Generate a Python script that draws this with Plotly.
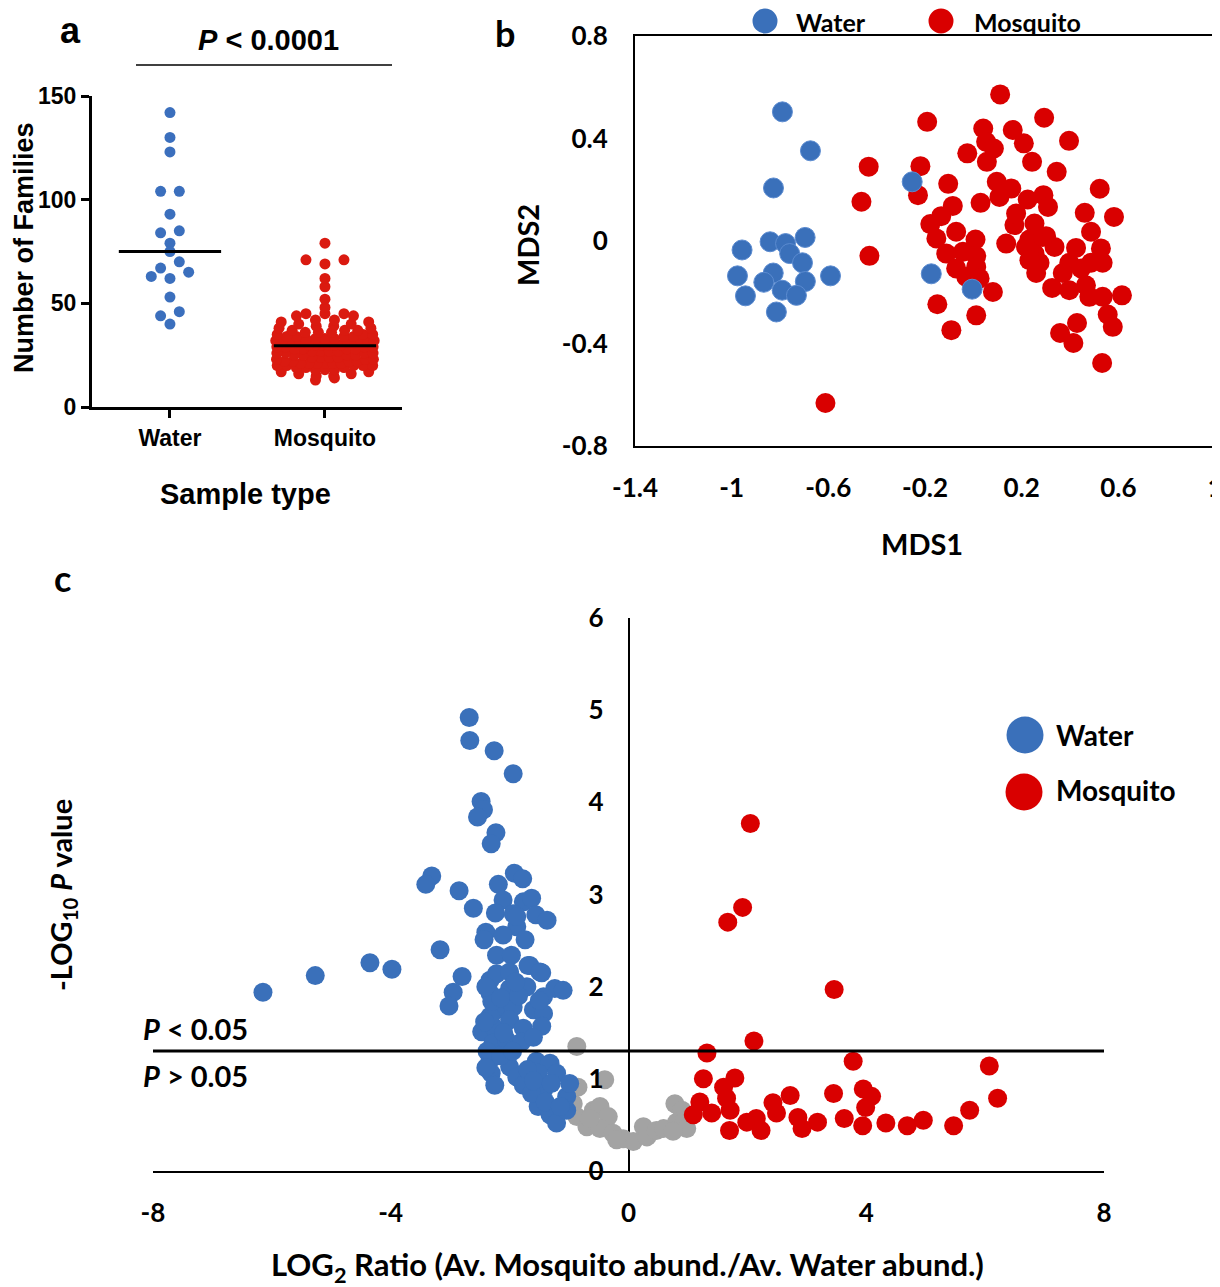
import numpy as np
import plotly.graph_objects as go

W, H = 1220, 1287
OFF = 8  # page margin around the plot div

# ---------------- panel a : families per sample ----------------
groups = ["Water", "Mosquito"]
water_families = [142, 130, 123, 104, 104, 93, 85, 84, 79, 75, 70, 67, 65, 63, 62, 53, 46, 44, 40]
mosquito_families = [13, 14, 15, 15, 16, 16, 17, 17, 18, 18, 18, 19, 19, 19,
                     20, 20, 20, 20, 20, 21, 21, 21, 21, 21, 21, 22, 22, 22, 22,
                     23, 23, 23, 24, 24, 24, 24, 25, 25, 25, 25, 26, 26, 26, 26,
                     27, 27, 27, 27, 28, 28, 28, 28, 29, 29, 29, 29,
                     30, 30, 30, 30, 30, 30, 31, 31, 31, 31, 31, 32, 32, 32, 32, 32,
                     33, 33, 33, 33, 34, 34, 34, 34, 35, 35, 35, 36, 36, 36, 37, 37, 37,
                     38, 38, 39, 39, 40, 40, 41, 41, 42, 42, 44, 44, 45, 45, 45,
                     48, 52, 58, 62, 69, 71, 71, 79]

# ---------------- panel b : MDS ordination ----------------
mds_water_x = [-0.790, -0.674, -0.827, -0.957, -0.976, -0.943, -0.815, -0.841, -0.777, -0.696, -0.760,
               -0.707, -0.828, -0.867, -0.695, -0.791, -0.732, -0.591, -0.253, -0.174, -0.005]
mds_water_y = [0.504, 0.352, 0.207, -0.035, -0.136, -0.214, -0.277, -0.003, -0.010, 0.014, -0.049,
               -0.085, -0.125, -0.161, -0.158, -0.192, -0.212, -0.136, 0.231, -0.128, -0.188]
mds_mosq_x = [-0.433, -0.463, -0.430, -0.612, 0.111, -0.191, 0.293, 0.041, 0.163, 0.053, 0.085, 0.209,
              -0.025, 0.056, 0.243, 0.396, 0.345, -0.219, -0.229, -0.104, 0.523, 0.582, 0.461, 0.487,
              0.097, 0.157, 0.030, 0.108, 0.225, 0.290, 0.309, -0.085, -0.133, -0.178, -0.153, -0.071,
              0.009, -0.112, -0.043, 0.012, -0.071, 0.012, 0.170, 0.253, 0.136, 0.232, 0.301, 0.336,
              0.253, 0.274, 0.260, 0.425, 0.528, 0.535, 0.397, 0.446, 0.370, 0.326, 0.397, 0.466,
              0.480, 0.535, 0.615, 0.556, 0.577, 0.429, 0.359, 0.414, 0.533, 0.081, 0.012, -0.149,
              -0.091, -0.029, 0.026, 0.177, 0.218, 0.232, 0.287, 0.487]
mds_mosq_y = [0.290, 0.153, -0.058, -0.632, 0.572, 0.465, 0.481, 0.439, 0.433, 0.387, 0.361, 0.381,
              0.342, 0.309, 0.309, 0.391, 0.270, 0.292, 0.179, 0.223, 0.204, 0.094, 0.110, 0.036,
              0.231, 0.205, 0.149, 0.172, 0.162, 0.179, 0.133, 0.137, 0.097, 0.066, 0.010, 0.036,
              0.006, -0.049, -0.042, -0.059, -0.107, -0.101, 0.062, 0.068, -0.010, 0.006, 0.019, -0.023,
              -0.049, -0.085, -0.125, -0.027, -0.029, -0.085, -0.085, -0.107, -0.125, -0.183, -0.192, -0.173,
              -0.218, -0.218, -0.212, -0.287, -0.335, -0.320, -0.359, -0.398, -0.476, -0.199, -0.290, -0.247,
              -0.348, -0.140, -0.146, 0.107, -0.023, -0.075, 0.016, -0.085]

# ---------------- panel c : volcano ----------------
vol_water_x = [-2.68, -2.67, -2.26, -1.94, -2.48, -2.44, -2.54, -2.23, -2.31, -3.31, -3.41, -2.85, -2.61,
               -2.19, -1.92, -1.78, -2.11, -1.77, -1.63, -2.24, -1.94, -1.56, -1.37, -1.88, -2.40, -2.43,
               -2.11, -1.74, -3.17, -2.22, -1.97, -4.35, -3.98, -5.27, -6.15, -2.80, -2.95, -1.66, -1.46,
               -1.24, -1.10, -1.88, -3.02,
               -2.33, -2.33, -2.22, -2.00, -1.69, -1.49, -2.00, -1.71, -1.43, -2.22, -1.94, -1.60, -1.43,
               -2.47, -2.28, -2.00, -1.77, -1.46, -2.28, -2.05, -1.80, -2.33, -2.30,
               -2.33, -2.31, -2.25, -2.00, -1.88, -1.77, -1.55, -1.32, -1.21, -1.52, -1.43, -1.52, -1.32,
               -1.21, -1.04, -0.99, -1.04, -1.63,
               -2.40, -2.15, -1.85, -2.10, -1.60, -2.38, -2.15, -1.95, -1.70, -1.60, -2.40, -1.40, -1.15,
               -1.30, -2.42, -1.90, -1.50]
vol_water_y = [4.92, 4.67, 4.56, 4.31, 4.01, 3.92, 3.84, 3.67, 3.55, 3.20, 3.11, 3.04, 2.85,
               3.11, 3.23, 3.17, 2.94, 2.92, 2.96, 2.80, 2.79, 2.78, 2.72, 2.65, 2.59, 2.51,
               2.56, 2.51, 2.40, 2.34, 2.34, 2.26, 2.19, 2.12, 1.94, 2.11, 1.94, 2.23, 2.15,
               1.98, 1.96, 2.76, 1.79,
               2.07, 1.93, 2.14, 2.16, 2.23, 2.16, 1.98, 2.00, 1.89, 1.75, 1.78, 1.75, 1.71,
               1.51, 1.57, 1.64, 1.55, 1.57, 1.39, 1.42, 1.40, 1.68, 1.84,
               1.20, 1.06, 0.93, 1.13, 1.02, 0.93, 1.19, 1.17, 1.06, 1.06, 0.88, 0.70, 0.61,
               0.52, 0.81, 0.95, 0.66, 0.84,
               2.00, 1.88, 1.90, 1.50, 1.45, 1.30, 1.25, 1.30, 1.10, 0.98, 1.12, 0.75, 0.70,
               0.95, 1.62, 2.05, 1.85]
vol_ns_x = [-0.87, -0.40, -0.85, -0.93, -0.87, -0.59, -0.48, -0.34, -0.70, -0.48, -0.26, -0.09, 0.08,
            0.25, 0.31, 0.47, 0.59, 0.78, 0.90, 0.81, 0.95, 0.98, 0.75, -0.20, -0.65]
vol_ns_y = [1.35, 0.99, 0.91, 0.73, 0.59, 0.66, 0.70, 0.59, 0.48, 0.46, 0.41, 0.35, 0.32,
            0.48, 0.37, 0.44, 0.46, 0.73, 0.66, 0.53, 0.55, 0.46, 0.43, 0.34, 0.57]
vol_mosq_x = [2.05, 1.92, 1.67, 3.46, 2.11, 1.32, 3.78, 6.07, 6.21, 5.74, 5.47, 4.96, 4.69, 4.33, 3.94,
              3.63, 3.45, 3.95, 4.09, 3.99, 3.18, 2.85, 2.92, 2.72, 2.43, 2.49, 1.26, 1.79, 1.60, 1.65,
              1.20, 1.40, 1.71, 1.70, 1.99, 2.15, 2.23, 1.09]
vol_mosq_y = [3.77, 2.86, 2.70, 1.97, 1.41, 1.28, 1.19, 1.14, 0.79, 0.66, 0.49, 0.55, 0.49, 0.52, 0.49,
              0.57, 0.84, 0.89, 0.81, 0.69, 0.53, 0.58, 0.46, 0.82, 0.74, 0.63, 1.00, 1.01, 0.91, 0.79,
              0.75, 0.63, 0.66, 0.44, 0.53, 0.57, 0.44, 0.61]
p_cutoff = 0.05

BLUE = "#3A70BA"
RED = "#D90000"
GREY = "#A3A3A3"
A_BLUE = "#3B6FBD"
A_RED = "#DA1A10"
ARIAL = "Liberation Sans, Arial, sans-serif"
CALI = "Lato, Noto Sans, sans-serif"


def fx(x):
    return (x - OFF) / W


def fy(y):
    return 1 - (y - OFF) / H


def swarm(values, bin_size, max_width, max_step):
    # simple prism-like row layout, offsets returned in pixels
    vals = np.asarray(values, float)
    offs = np.zeros(len(vals))
    bins = np.floor(vals / bin_size)
    for b in np.unique(bins):
        idx = np.where(bins == b)[0]
        idx = idx[np.argsort(vals[idx], kind="stable")]
        n = len(idx)
        step = min(max_step, max_width / n)
        slots = np.arange(n) - (n - 1) / 2
        order = np.argsort(np.abs(slots), kind="stable")
        for k, i in zip(order, idx):
            offs[i] = slots[k] * step
    return offs


def hyphen(v):
    return str(v).replace("−", "-")


CAT_PX = 155.0  # pixels between the two categories
water_x = 0 + swarm(water_families, 6, 60, 18.7) / CAT_PX
mosq_x = 1 + swarm(mosquito_families, 3, 105, 19) / CAT_PX

fig = go.Figure()

# panel a
fig.add_trace(go.Scatter(x=water_x, y=water_families, mode="markers", xaxis="x", yaxis="y",
                         marker=dict(size=11, color=A_BLUE), showlegend=False, cliponaxis=False))
fig.add_trace(go.Scatter(x=mosq_x, y=mosquito_families, mode="markers", xaxis="x", yaxis="y",
                         marker=dict(size=11, color=A_RED), showlegend=False, cliponaxis=False))
for i, vals in enumerate([water_families, mosquito_families]):
    m = float(np.median(vals))
    fig.add_trace(go.Scatter(x=[i - 0.33, i + 0.33], y=[m, m], mode="lines", xaxis="x", yaxis="y",
                             line=dict(color="black", width=3), showlegend=False))

# panel b
fig.add_trace(go.Scatter(x=mds_mosq_x, y=mds_mosq_y, mode="markers", xaxis="x2", yaxis="y2",
                         marker=dict(size=20, color=RED), name="Mosquito", showlegend=False))
fig.add_trace(go.Scatter(x=mds_water_x, y=mds_water_y, mode="markers", xaxis="x2", yaxis="y2",
                         marker=dict(size=20, color=BLUE, line=dict(color="#5B8BD0", width=1)),
                         name="Water", showlegend=False))

# panel c
fig.add_trace(go.Scatter(x=vol_ns_x, y=vol_ns_y, mode="markers", xaxis="x3", yaxis="y3",
                         marker=dict(size=19, color=GREY), showlegend=False, cliponaxis=False))
fig.add_trace(go.Scatter(x=vol_water_x, y=vol_water_y, mode="markers", xaxis="x3", yaxis="y3",
                         marker=dict(size=19, color=BLUE), showlegend=False, cliponaxis=False))
fig.add_trace(go.Scatter(x=vol_mosq_x, y=vol_mosq_y, mode="markers", xaxis="x3", yaxis="y3",
                         marker=dict(size=19, color=RED), showlegend=False, cliponaxis=False))

tf_a = dict(family=ARIAL, size=23, color="black", weight="bold")
tf_c = dict(family=CALI, size=26, color="black", weight="bold")

b_xt = [-1.4, -1, -0.6, -0.2, 0.2, 0.6, 1]
b_yt = [-0.8, -0.4, 0, 0.4, 0.8]
c_xt = [-8, -4, 0, 4, 8]

fig.update_layout(
    width=W, height=H, margin=dict(l=0, r=0, t=0, b=0, autoexpand=False),
    plot_bgcolor="white", paper_bgcolor="white",
    xaxis=dict(domain=[fx(92), fx(402)], range=[-0.503, 1.497], anchor="y",
               tickvals=[0, 1], ticktext=groups, tickfont=tf_a,
               showline=True, linewidth=3, linecolor="black", ticks="outside",
               ticklen=8, tickwidth=3, tickcolor="black", showgrid=False, zeroline=False),
    yaxis=dict(domain=[fy(407), fy(96)], range=[0, 150], anchor="x",
               tickvals=[0, 50, 100, 150], tickfont=tf_a,
               showline=True, linewidth=3, linecolor="black", ticks="outside",
               ticklen=8, tickwidth=3, tickcolor="black", showgrid=False, zeroline=False),
    xaxis2=dict(domain=[fx(635), fx(1215)], range=[-1.4, 1], anchor="y2",
                tickvals=b_xt, ticktext=[hyphen(v) for v in b_xt], tickfont=tf_c,
                showline=True, mirror=True, linewidth=2, linecolor="black", ticks="",
                ticklabelstandoff=18, showgrid=False, zeroline=False),
    yaxis2=dict(domain=[fy(446), fy(36)], range=[-0.8, 0.8], anchor="x2",
                tickvals=b_yt, ticktext=[hyphen(v) for v in b_yt],
                tickfont=tf_c, showline=True, mirror=True, linewidth=2, linecolor="black",
                ticks="", ticklabelstandoff=20, showgrid=False, zeroline=False),
    xaxis3=dict(domain=[fx(153), fx(1104)], range=[-8, 8], anchor="y3",
                tickvals=c_xt, ticktext=[hyphen(v) for v in c_xt], tickfont=tf_c,
                showline=True, linewidth=2, linecolor="black", ticks="",
                ticklabelstandoff=18, showgrid=False,
                zeroline=True, zerolinewidth=2, zerolinecolor="black"),
    yaxis3=dict(domain=[fy(1171), fy(618)], range=[0, 6], anchor="free", position=fx(628.5),
                tickvals=[0, 1, 2, 3, 4, 5, 6], tickfont=tf_c, showline=False, ticks="",
                ticklabelstandoff=25, showgrid=False, zeroline=False),
)

shapes = [
    # significance bar in panel a
    dict(type="line", xref="paper", yref="paper", x0=fx(136), x1=fx(392), y0=fy(65), y1=fy(65),
         line=dict(color="black", width=1.5)),
    # P = 0.05 threshold in panel c
    dict(type="line", xref="x3", yref="y3", x0=-8, x1=8,
         y0=-np.log10(p_cutoff), y1=-np.log10(p_cutoff), line=dict(color="black", width=3)),
]


def legend_key(cx, cy, d, color):
    return dict(type="circle", xref="paper", yref="paper", x0=fx(cx - d / 2), x1=fx(cx + d / 2),
                y0=fy(cy + d / 2), y1=fy(cy - d / 2), fillcolor=color, line=dict(width=0))


shapes += [legend_key(765, 21, 25, BLUE), legend_key(941, 21, 25, RED),
           legend_key(1025, 735, 37, BLUE), legend_key(1024, 792, 37, RED)]
fig.update_layout(shapes=shapes)


def note(text, x, y, size, family=CALI, angle=0, xanchor="center"):
    fig.add_annotation(text=text, x=fx(x), y=fy(y), xref="paper", yref="paper", showarrow=False,
                       textangle=angle, xanchor=xanchor, yanchor="middle", borderpad=0,
                       font=dict(family=family, size=size, color="black", weight="bold"))


# panel a texts
note("a", 70, 30, 36, ARIAL)
note("<i>P</i> < 0.0001", 268, 40, 29, ARIAL)
note("Number of Families", 24, 248, 27, ARIAL, angle=-90)
note("Sample type", 245, 494, 29, ARIAL)
# panel b texts
note("b", 505, 33, 36)
note("Water", 795, 22, 25, xanchor="left")
note("Mosquito", 973, 22, 25, xanchor="left")
note("MDS2", 528, 245, 29, angle=-90)
note("MDS1", 922, 543, 29)
# panel c texts
note("c", 62, 578, 36)
note("-LOG<sub>10</sub> <i>P</i> value", 62, 895, 29, angle=-90)
note("LOG<sub>2</sub> Ratio (Av. Mosquito abund./Av. Water abund.)", 627, 1266, 31)
note("<i>P</i> < 0.05", 142, 1028, 29, xanchor="left")
note("<i>P</i> > 0.05", 142, 1075, 29, xanchor="left")
note("Water", 1055, 735, 28, xanchor="left")
note("Mosquito", 1055, 790, 28, xanchor="left")

fig.write_html("out.html")
